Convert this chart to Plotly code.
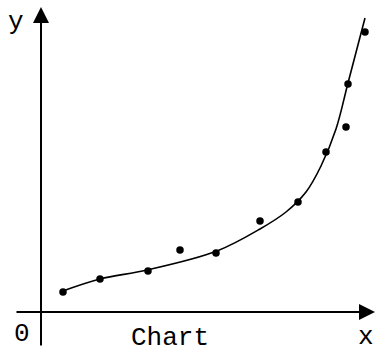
import plotly.graph_objects as go

# Data points (arbitrary units)
point_x = [2.2, 5.9, 10.7, 13.9, 17.5, 21.9, 25.7, 28.5, 30.5, 30.7, 32.4]
point_y = [2.0, 3.3, 4.1, 6.2, 5.9, 9.1, 11.0, 16.0, 18.5, 22.8, 28.0]

# Fitted curve
curve_x = [1.9, 5.9, 10.6, 17.6, 21.9, 24.5, 26.5, 28.0, 29.5, 30.7, 32.4]
curve_y = [2.0, 3.3, 4.2, 6.1, 8.3, 10.0, 12.0, 14.6, 18.3, 22.9, 29.4]

axis_label_x = "x"
axis_label_y = "y"
origin_label = "0"
title_text = "Chart"

fig = go.Figure()
fig.add_trace(go.Scatter(x=curve_x, y=curve_y, mode="lines",
                         line=dict(color="black", width=1.6, shape="spline", smoothing=1.0),
                         hoverinfo="skip", showlegend=False))
fig.add_trace(go.Scatter(x=point_x, y=point_y, mode="markers",
                         marker=dict(color="black", size=7.5, symbol="circle"),
                         showlegend=False))

font = dict(family="Liberation Mono", color="black")
annotations = [
    # y axis arrow
    dict(x=0, y=30.5, ax=0, ay=-3.5, xref="x", yref="y", axref="x", ayref="y",
         text="", showarrow=True, arrowhead=2, arrowsize=1.6, arrowwidth=2, arrowcolor="black"),
    # x axis arrow
    dict(x=33.4, y=0, ax=-2.6, ay=0, xref="x", yref="y", axref="x", ayref="y",
         text="", showarrow=True, arrowhead=2, arrowsize=1.6, arrowwidth=2, arrowcolor="black"),
    dict(x=-2.5, y=29.0, xref="x", yref="y", text=axis_label_y, showarrow=False,
         font=dict(size=26, **font), xanchor="center", yanchor="middle"),
    dict(x=-1.9, y=-2.2, xref="x", yref="y", text=origin_label, showarrow=False,
         font=dict(size=26, **font), xanchor="center", yanchor="middle"),
    dict(x=12.9, y=-2.6, xref="x", yref="y", text=title_text, showarrow=False,
         font=dict(size=26, **font), xanchor="center", yanchor="middle"),
    dict(x=32.5, y=0, xref="x", yref="paper", text=axis_label_x, showarrow=False,
         font=dict(size=26, **font), xanchor="center", yanchor="bottom"),
]

fig.update_layout(
    width=377, height=354,
    margin=dict(l=0, r=0, t=0, b=0),
    paper_bgcolor="white", plot_bgcolor="white",
    xaxis=dict(range=[-4.1, 33.6], visible=False, fixedrange=True),
    yaxis=dict(range=[-4.2, 31.2], visible=False, fixedrange=True),
    annotations=annotations,
    showlegend=False,
)

fig.write_html("out.html", config={"displayModeBar": False},
               post_script="document.body.style.margin='0';document.body.style.overflow='hidden';")
